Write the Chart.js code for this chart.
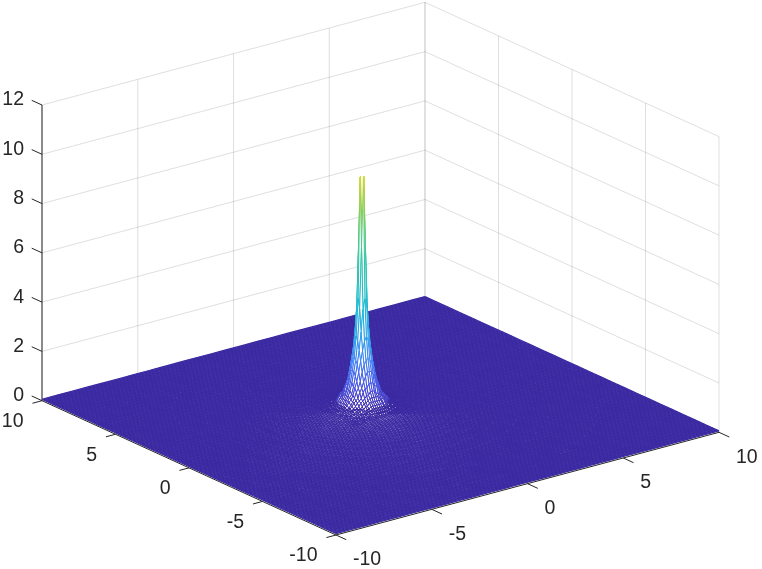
<!DOCTYPE html>
<html>
<head>
<meta charset="utf-8">
<style>
  html, body { margin: 0; padding: 0; background: #fff; }
  canvas { display: block; }
</style>
<script src="https://cdn.jsdelivr.net/npm/chart.js@4"></script>
</head>
<body>
<canvas id="meshChart" width="762" height="569"></canvas>
<script>
// Tick labels
const xTicks = [-10, -5, 0, 5, 10];
const yTicks = [-10, -5, 0, 5, 10];
const zTicks = [0, 2, 4, 6, 8, 10, 12];

// Surface height, by distance from the peak
const ringRadii = [0.1, 0.14, 0.2, 0.22, 0.28, 0.3, 0.32, 0.36, 0.4, 0.42, 0.45, 0.5, 0.54, 0.58, 0.6, 0.65, 0.7, 0.75, 0.8, 0.85, 0.9, 1, 1.1, 1.2, 1.35, 1.5, 1.6, 1.7, 1.8, 1.9, 2, 2.1, 2.2, 2.35, 2.5, 2.65, 2.8, 3, 3.2, 3.5, 3.8, 4.2, 4.7, 5.3, 6, 7, 8.5, 11];
const ringHeights = [9.5, 6.7, 4.6, 4.2, 3.3, 3.1, 2.9, 2.55, 2.25, 2.15, 2, 1.72, 1.55, 1.36, 1.28, 1.12, 0.98, 0.85, 0.76, 0.68, 0.62, 0.5, 0.42, 0.36, 0.3, 0.25, 0.23, 0.21, 0.195, 0.18, 0.17, 0.16, 0.15, 0.14, 0.13, 0.122, 0.115, 0.108, 0.102, 0.096, 0.09, 0.085, 0.08, 0.075, 0.07, 0.066, 0.062, 0.058];

// Colour against height
const colorHeights = [0, 0.5, 1, 2, 3, 4, 5, 6, 7, 8, 9, 9.6];
const colorValues = ['#3b2aa2', '#3f35c0', '#4450e0', '#3f80f5', '#2ea0e8', '#1db5d8', '#20bfc0', '#30c4ac', '#50c88c', '#80cc60', '#b8d23c', '#d0dc30'];

const baseColor = colorValues[0];
const axisColor = '#262626';
const gridColor = 'rgba(38, 38, 38, 0.15)';

// Mesh lattice: 201 lines each way, 0.1 apart, peak on lattice point (98, 110)
const lineCount = 201;
const peakI = 98;
const peakJ = 110;
const nearSize = 16;

const ctx = document.getElementById('meshChart').getContext('2d');

// Orthographic view of the box
function project(x, y, z) {
    return {
        x: 380.5 + 19.15 * x - 14.7 * y,
        y: 416.5 - 5.135 * x - 6.715 * y - 24.64 * z
    };
}

function heightAt(i, j) {
    const r = 0.1 * Math.hypot(i - peakI, j - peakJ);
    let best = 0;
    for (let k = 1; k < ringRadii.length; k++) {
        if (Math.abs(ringRadii[k] - r) < Math.abs(ringRadii[best] - r)) best = k;
    }
    return ringHeights[best];
}

function latticePoint(i, j) {
    return project(-10 + 0.1 * i, -10 + 0.1 * j, heightAt(i, j));
}

function isNear(i, j) {
    return Math.abs(i - peakI) < nearSize && Math.abs(j - peakJ) < nearSize;
}

function lineDataset(data, color, width) {
    return {
        data: data,
        borderColor: color,
        borderWidth: width,
        pointRadius: 0,
        fill: false,
        tension: 0
    };
}

// Edges get thinner towards the front of the peak so the white faces show through
const peakScreen = project(-10 + 0.1 * peakI, -10 + 0.1 * peakJ, 0);
function edgeWidth(px, py) {
    const below = py - peakScreen.y;
    const side = Math.abs(px - peakScreen.x);
    if (below < 3 || side > 110) return 1.22;
    if (below > 62 || side > 85) return 1.17;
    if (below > 44 || side > 60) return 1.12;
    if (below > 26 || side > 40) return 1.07;
    return 1.02;
}

function farSegmentWidth(context) {
    const p0 = context.p0.parsed;
    const p1 = context.p1.parsed;
    return edgeWidth((p0.x + p1.x) / 2, (p0.y + p1.y) / 2);
}

// Height gradient for the spike; the y scale runs one unit per pixel
function buildGradient() {
    const top = colorHeights[colorHeights.length - 1];
    const g = ctx.createLinearGradient(0, peakScreen.y, 0, peakScreen.y - 24.64 * top);
    colorHeights.forEach((h, k) => g.addColorStop(h / top, colorValues[k]));
    return g;
}
const spikeGradient = buildGradient();

// Walls and axes
function boxDatasets() {
    const sets = [];
    zTicks.forEach(z => {
        sets.push(lineDataset([project(-10, 10, z), project(10, 10, z), project(10, -10, z)], gridColor, 1));
    });
    xTicks.forEach(x => {
        sets.push(lineDataset([project(x, 10, 0), project(x, 10, 12)], gridColor, 1));
    });
    yTicks.forEach(y => {
        sets.push(lineDataset([project(10, y, 0), project(10, y, 12)], gridColor, 1));
    });
    sets.push(lineDataset([project(-10, 10, 0), project(-10, 10, 12)], axisColor, 1));
    sets.push(lineDataset([project(-10, 10, 0), project(-10, -10, 0), project(10, -10, 0)], axisColor, 1));
    zTicks.forEach(z => {
        sets.push(lineDataset([project(-10, 10, z), project(-10, 10.7, z)], axisColor, 1));
    });
    xTicks.forEach(x => {
        sets.push(lineDataset([project(x, -10, 0), project(x, -10.7, 0)], axisColor, 1));
    });
    yTicks.forEach(y => {
        sets.push(lineDataset([project(-10, y, 0), project(-10.5, y, 0)], axisColor, 1));
    });
    return sets;
}

// One mesh line of the flat part, split where it crosses the near block
function farRuns(pointAt) {
    const runs = [];
    let run = [];
    for (let b = 0; b < lineCount; b++) {
        const [i, j] = pointAt(b);
        if (isNear(i, j)) {
            if (run.length) runs.push(run);
            run = [];
            continue;
        }
        const h = heightAt(i, j);
        let keep = run.length === 0 || b === lineCount - 1 || b % 8 === 0;
        if (!keep) {
            const [pi, pj] = pointAt(b - 1);
            const [ni, nj] = pointAt(b + 1);
            keep = isNear(ni, nj) || heightAt(pi, pj) !== h || heightAt(ni, nj) !== h;
        }
        if (keep) run.push(latticePoint(i, j));
    }
    if (run.length) runs.push(run);
    return runs;
}

function farDataset(run) {
    const set = lineDataset(run, baseColor, 1.22);
    set.segment = { borderWidth: farSegmentWidth };
    return set;
}

function farDatasets() {
    const sets = [];
    for (let a = 0; a < lineCount; a++) {
        farRuns(b => [a, b]).forEach(run => sets.push(farDataset(run)));
        farRuns(b => [b, a]).forEach(run => sets.push(farDataset(run)));
    }
    return sets;
}

// Near block: white faces with coloured edges, painted back to front
function nearDatasets() {
    const cells = [];
    for (let i = peakI - nearSize; i < peakI + nearSize; i++) {
        for (let j = peakJ - nearSize; j < peakJ + nearSize; j++) {
            const corners = [[i, j], [i + 1, j], [i + 1, j + 1], [i, j + 1]];
            if (corners.some(c => c[0] === peakI && c[1] === peakJ)) continue;
            const tall = Math.max(...corners.map(c => heightAt(c[0], c[1])));
            const points = corners.map(c => latticePoint(c[0], c[1]));
            points.push(points[0]);
            const width = tall < 0.45 ? edgeWidth(points[0].x, points[0].y) : 1;
            const set = lineDataset(points, tall < 0.45 ? baseColor : spikeGradient, width);
            set.fill = 'shape';
            set.backgroundColor = '#fff';
            cells.push({ depth: i + j, set: set });
        }
    }
    // Chart.js paints the last dataset first, so the front cell goes first
    cells.sort((a, b) => a.depth - b.depth);
    return cells.map(c => c.set);
}

const tickLabels = {
    id: 'tickLabels',
    afterDraw(chart) {
        const c = chart.ctx;
        const sx = chart.scales.x;
        const sy = chart.scales.y;
        c.save();
        c.font = '19.5px "Liberation Sans", Arial, sans-serif';
        c.fillStyle = axisColor;
        c.textBaseline = 'middle';
        c.textAlign = 'right';
        zTicks.forEach(z => {
            const p = project(-10, 10, z);
            c.fillText(String(z), sx.getPixelForValue(p.x) - 18, sy.getPixelForValue(p.y) - 5);
        });
        yTicks.forEach(y => {
            const p = project(-10, y, 0);
            c.fillText(String(y), sx.getPixelForValue(p.x) - 18.5, sy.getPixelForValue(p.y) + 21);
        });
        c.textAlign = 'left';
        xTicks.forEach(x => {
            const p = project(x, -10, 0);
            c.fillText(String(x), sx.getPixelForValue(p.x) + 17, sy.getPixelForValue(p.y) + 25);
        });
        c.restore();
    }
};

new Chart(ctx, {
    type: 'line',
    data: {
        datasets: [...nearDatasets(), ...farDatasets(), ...boxDatasets().reverse()]
    },
    options: {
        responsive: false,
        animation: false,
        events: [],
        layout: { padding: 0 },
        scales: {
            x: { type: 'linear', display: false, min: 0, max: 762 },
            y: { type: 'linear', display: false, min: 0, max: 569, reverse: true }
        },
        plugins: {
            legend: { display: false },
            tooltip: { enabled: false }
        }
    },
    plugins: [tickLabels]
});
</script>
</body>
</html>
